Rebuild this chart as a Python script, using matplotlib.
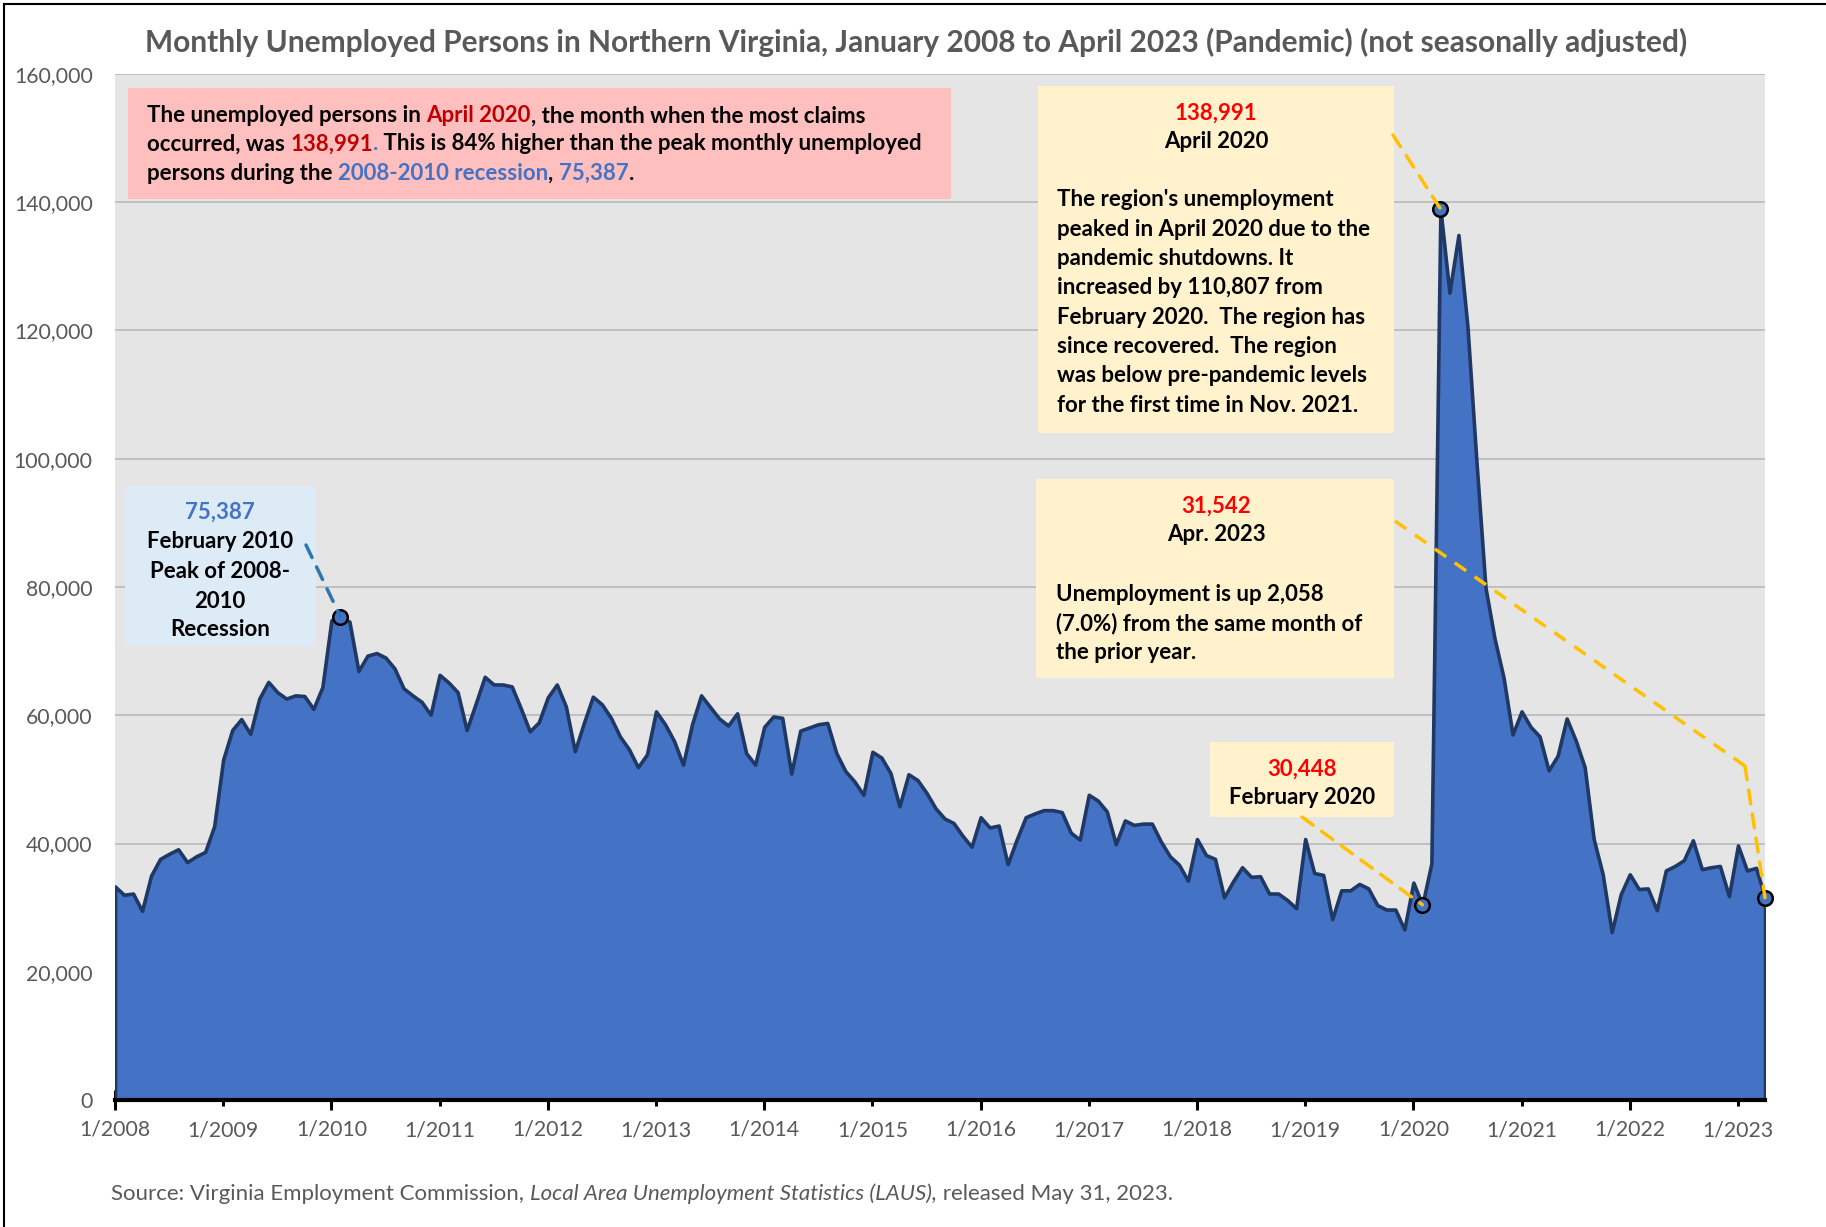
import numpy as np
import matplotlib
matplotlib.use("Agg")
import matplotlib.pyplot as plt
from matplotlib.lines import Line2D
from matplotlib.patches import Rectangle, ConnectionPatch

plt.rcParams["font.family"] = ["Lato", "DejaVu Sans"]

# monthly unemployed persons, Jan 2008 .. Apr 2023
unemployed = [
    33300, 32000, 32200, 29500, 35000, 37600, 38400, 39100, 37100, 38000, 38700, 42700,  # 2008
    53100, 57700, 59400, 57100, 62600, 65200, 63600, 62600, 63100, 63000, 61000, 64400,  # 2009
    74800, 75387, 74600, 66900, 69300, 69700, 69000, 67300, 64200, 63100, 62100, 60100,  # 2010
    66300, 65100, 63600, 57700, 61800, 66000, 64800, 64800, 64500, 61100, 57500, 58900,  # 2011
    62800, 64800, 61400, 54400, 58800, 62900, 61700, 59600, 56700, 54700, 51900, 53900,  # 2012
    60600, 58600, 56000, 52300, 58600, 63100, 61300, 59500, 58400, 60300, 54100, 52300,  # 2013
    58200, 59800, 59600, 50900, 57600, 58100, 58600, 58800, 54100, 51300, 49700, 47600,  # 2014
    54300, 53400, 51000, 45800, 50800, 49900, 47900, 45500, 43900, 43200, 41200, 39500,  # 2015
    44100, 42500, 42800, 36800, 40600, 44100, 44700, 45200, 45200, 44900, 41700, 40600,  # 2016
    47600, 46700, 45000, 39900, 43600, 42900, 43100, 43100, 40300, 38000, 36700, 34200,  # 2017
    40700, 38200, 37600, 31600, 34100, 36300, 34800, 34900, 32200, 32200, 31200, 29900,  # 2018
    40700, 35400, 35100, 28200, 32700, 32700, 33700, 33000, 30400, 29700, 29700, 26600,  # 2019
    33900, 30448, 36900, 138991, 125900, 134900, 120600, 99500, 79900, 72000, 65900, 57000,  # 2020
    60600, 58200, 56700, 51400, 53700, 59500, 56100, 51900, 40700, 35200, 26200, 32100,  # 2021
    35200, 32900, 33000, 29600, 35800, 36500, 37400, 40500, 36000, 36300, 36500, 31800,  # 2022
    39700, 35800, 36200, 31542,  # 2023
]
years = list(range(2008, 2024))
year_labels = [f"1/{y}" for y in years]
# highlighted months (index into the series)
peak_2010 = 25      # Feb 2010
feb_2020 = 145
apr_2020 = 147
apr_2023 = 183

W, H = 1826, 1227
fig = plt.figure(figsize=(W / 100, H / 100), dpi=100)
ax = fig.add_axes([115 / W, 1 - 1100 / H, 1650 / W, 1026 / H])

months = np.arange(len(unemployed))
vals = np.array(unemployed)

ax.set_facecolor("#E5E5E5")
ax.fill_between(months, 0, vals, facecolor="#4472C4", edgecolor="#1F3864",
                linewidth=2.6, zorder=2)
ax.set_xlim(0, len(unemployed) - 1)
ax.set_ylim(0, 160000)
ax.set_yticks(range(0, 160001, 20000))
ax.set_yticklabels([f"{v:,}" for v in range(0, 160001, 20000)])
ax.grid(axis="y", color="#BFBFBF", linewidth=1.4, zorder=0)
ax.set_axisbelow(True)
for s in ["left", "right", "top"]:
    ax.spines[s].set_visible(False)
ax.spines["bottom"].set_linewidth(3)
ax.spines["bottom"].set_zorder(5)

even = [i * 12 for i, y in enumerate(years) if y % 2 == 0]
odd = [i * 12 for i, y in enumerate(years) if y % 2 == 1]
ax.set_xticks(even, [year_labels[i // 12] for i in even])
ax.set_xticks(odd, [year_labels[i // 12] for i in odd], minor=True)
ax.tick_params(axis="x", which="major", direction="inout", length=14, width=2.2,
               pad=7, labelsize=15.3, labelcolor="#595959")
ax.tick_params(axis="x", which="minor", direction="out", length=4.5, width=2.2,
               pad=10, labelsize=15.3, labelcolor="#595959")
ax.tick_params(axis="y", length=0, pad=16, labelsize=15.3, labelcolor="#595959")

# markers on highlighted months
for i in [peak_2010, feb_2020, apr_2020, apr_2023]:
    ax.plot(months[i], vals[i], "o", ms=10.5, mfc="#4472C4", mec="black", mew=1.8,
            zorder=6, clip_on=False)


def px(x, y):
    return x / W, 1 - y / H


renderer = fig.canvas.get_renderer()


def seg_width(s, size, weight, style):
    t = fig.text(0, 0, "|" + s + "|", fontsize=size, fontweight=weight, fontstyle=style)
    b = fig.text(0, 0, "|", fontsize=size, fontweight=weight, fontstyle=style)
    w = t.get_window_extent(renderer).width - 2 * b.get_window_extent(renderer).width
    t.remove()
    b.remove()
    return w


def rich(x, y, parts, size, weight="bold", align="left"):
    # parts: (text, color) or (text, color, style)
    parts = [p if len(p) == 3 else (p[0], p[1], "normal") for p in parts]
    widths = [seg_width(s, size, weight, st) for s, c, st in parts]
    x0 = x - sum(widths) / 2 if align == "center" else x
    for (s, c, st), w in zip(parts, widths):
        fig.text(*px(x0, y), s, color=c, fontsize=size, fontweight=weight,
                 fontstyle=st, va="center_baseline", ha="left", zorder=10)
        x0 += w


def box(x0, y0, x1, y1, color):
    fig.patches.append(Rectangle(px(x0, y1), (x1 - x0) / W, (y1 - y0) / H,
                                 transform=fig.transFigure, facecolor=color,
                                 edgecolor="none", zorder=3))


def leader(xy_fig, idx, color, via=None):
    start = px(*xy_fig)
    if via is not None:
        mid = px(*via)
        fig.add_artist(Line2D([start[0], mid[0]], [start[1], mid[1]], color=color,
                              lw=2.5, ls=(0, (4, 3)), transform=fig.transFigure, zorder=4))
        start = mid
    con = ConnectionPatch(xyA=start, coordsA="figure fraction",
                          xyB=(months[idx], vals[idx]), coordsB=ax.transData,
                          color=color, lw=2.5, ls=(0, (4, 3)), zorder=4)
    fig.add_artist(con)


# title
fig.text(*px(916, 40), "Monthly Unemployed Persons in Northern Virginia, January 2008 to "
         "April 2023 (Pandemic) (not seasonally adjusted)", ha="center",
         va="center_baseline", fontsize=21.5, fontweight="bold", color="#595959")

# pink summary box
box(128, 88, 951, 199, "#FFBFBF")
black, dred, blue, red = "black", "#C00000", "#4472C4", "#FF0000"
fs = 16
rich(147, 114, [("The unemployed persons in ", black), ("April 2020", dred),
                (", the month when the most claims", black)], fs)
rich(147, 142, [("occurred, was ", black), ("138,991", dred), (".", blue),
                (" This is 84% higher than the peak monthly unemployed", black)], fs)
rich(147, 171, [("persons during the ", black), ("2008-2010 recession", blue),
                (", ", black), ("75,387", blue), (".", black)], fs)

# 2010 peak box
box(125, 486, 316, 646, "#DDEBF7")
for y, s, c in [(510, "75,387", blue), (540, "February 2010", black),
                (569, "Peak of 2008-", black), (599, "2010", black), (628, "Recession", black)]:
    rich(220, y, [(s, c)], fs, align="center")
leader((306, 545), peak_2010, "#2E75B6")

# April 2020 box
box(1038, 86, 1394, 433, "#FFF2CC")
rich(1216, 111, [("138,991", red)], fs, align="center")
rich(1216, 140, [("April 2020", black)], fs, align="center")
para = ["The region's unemployment", "peaked in April 2020 due to the",
        "pandemic shutdowns. It", "increased by 110,807 from",
        "February 2020.  The region has", "since recovered.  The region",
        "was below pre-pandemic levels", "for the first time in Nov. 2021."]
for k, line in enumerate(para):
    rich(1057, 198 + k * 29.3, [(line, black)], fs)
leader((1393, 135), apr_2020, "#FFC000")

# April 2023 box
box(1036, 479, 1394, 678, "#FFF2CC")
rich(1216, 504, [("31,542", red)], fs, align="center")
rich(1216, 533, [("Apr. 2023", black)], fs, align="center")
for k, line in enumerate(["Unemployment is up 2,058", "(7.0%) from the same month of",
                          "the prior year."]):
    rich(1056, 593 + k * 29, [(line, black)], fs)
leader((1395, 521), apr_2023, "#FFC000", via=(1745, 766))

# February 2020 box
box(1210, 742, 1394, 817, "#FFF2CC")
rich(1302, 767, [("30,448", red)], fs, align="center")
rich(1302, 795, [("February 2020", black)], fs, align="center")
leader((1302, 817), feb_2020, "#FFC000")

# source line
rich(111, 1192, [("Source: Virginia Employment Commission, ", "#595959"),
                 ("Local Area Unemployment Statistics (LAUS),", "#595959", "italic"),
                 (" released May 31, 2023.", "#595959")], 16, weight="normal")

# outer frame (left and top edges)
fig.add_artist(Line2D([4 / W, 4 / W], [0, 1 - 4 / H], color="black", lw=1.5,
                      transform=fig.transFigure))
fig.add_artist(Line2D([4 / W, 1], [1 - 4 / H, 1 - 4 / H], color="black", lw=1.5,
                      transform=fig.transFigure))

fig.savefig("out.png", dpi=100, facecolor="white")
